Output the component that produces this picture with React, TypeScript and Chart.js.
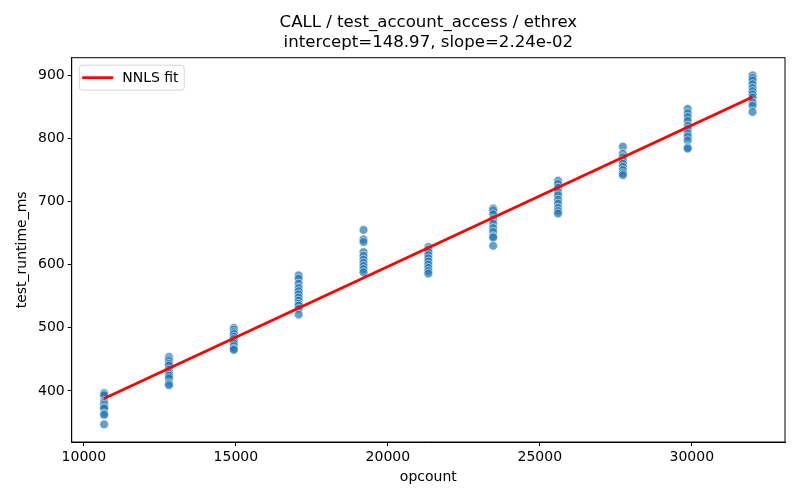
import React, { useEffect, useRef } from 'react';
import { Chart, registerables } from 'chart.js';

Chart.register(...registerables);

const FONT = "'DejaVu Sans', sans-serif";

const titleLines = ['CALL / test_account_access / ethrex', 'intercept=148.97, slope=2.24e-02'];
const intercept = 148.97;
const slope = 2.24e-2;

const opcounts = [10666, 12800, 14933, 17066, 19200, 21333, 23466, 25600, 27733, 29866, 32000];

// runtime samples (ms) read per opcount column
const ms10666 = [397, 395, 393, 384, 381, 378, 374, 372, 364, 362, 347];
const ms12800 = [454, 450, 447, 443, 440, 434, 430, 427, 424, 420, 412, 409];
const ms14933 = [500, 497, 493, 490, 486, 482, 478, 475, 471, 467, 465];
const ms17066 = [583, 578, 570, 563, 558, 553, 548, 543, 538, 535, 530, 521];
const ms19200 = [655, 640, 636, 620, 614, 608, 603, 598, 593, 588];
const ms21333 = [628, 624, 620, 615, 610, 605, 600, 595, 590, 586];
const ms23466 = [689, 686, 680, 672, 665, 658, 652, 645, 643, 630];
const ms25600 = [733, 728, 722, 715, 710, 703, 697, 690, 685, 681];
const ms27733 = [787, 776, 770, 765, 760, 755, 750, 745, 742];
const ms29866 = [847, 840, 834, 828, 820, 815, 808, 803, 797, 786, 784];
const ms32000 = [900, 896, 892, 886, 880, 875, 870, 865, 857, 852, 842];

const runtimes = [ms10666, ms12800, ms14933, ms17066, ms19200, ms21333, ms23466, ms25600, ms27733, ms29866, ms32000];

const xTicks = [10000, 15000, 20000, 25000, 30000];
const yTicks = [400, 500, 600, 700, 800, 900];

// title centred over the axes (matplotlib style), box around the plot, legend top left
const framePlugin = {
  id: 'frame',
  afterDraw(chart: any) {
    const { ctx, chartArea } = chart;
    const { left, top, right, bottom } = chartArea;
    ctx.save();

    ctx.fillStyle = '#000';
    ctx.font = `16.6px ${FONT}`;
    ctx.textAlign = 'center';
    ctx.textBaseline = 'middle';
    titleLines.forEach((line, i) => {
      ctx.fillText(line, (left + right) / 2, 23 + i * 20);
    });

    ctx.strokeStyle = '#000';
    ctx.lineWidth = 1;
    ctx.strokeRect(left, top, right - left, bottom - top);

    const bx = left + 7.5;
    const by = top + 7.5;
    const bw = 105;
    const bh = 25;
    ctx.fillStyle = 'rgba(255,255,255,0.8)';
    ctx.strokeStyle = '#d6d6d6';
    ctx.beginPath();
    ctx.roundRect(bx, by, bw, bh, 3);
    ctx.fill();
    ctx.stroke();

    const ly = by + bh / 2;
    ctx.strokeStyle = 'red';
    ctx.lineWidth = 2.8;
    ctx.beginPath();
    ctx.moveTo(bx + 3, ly);
    ctx.lineTo(bx + 34, ly);
    ctx.stroke();

    ctx.fillStyle = '#000';
    ctx.font = `14px ${FONT}`;
    ctx.textAlign = 'left';
    ctx.fillText(chart.data.datasets[0].label, bx + 43, ly + 1);
    ctx.restore();
  },
};

const App: React.FC = () => {
  const canvasRef = useRef<HTMLCanvasElement | null>(null);

  useEffect(() => {
    document.body.style.margin = '0';
    const ctx = canvasRef.current?.getContext('2d');
    if (!ctx) return;

    const points = opcounts.flatMap((x, i) => runtimes[i].map(y => ({ x, y })));
    const xFirst = opcounts[0];
    const xLast = opcounts[opcounts.length - 1];
    const fit = [
      { x: xFirst, y: intercept + slope * xFirst },
      { x: xLast, y: intercept + slope * xLast },
    ];

    const chart = new Chart(ctx, {
      type: 'scatter',
      data: {
        datasets: [
          {
            type: 'line',
            label: 'NNLS fit',
            data: fit,
            borderColor: 'red',
            borderWidth: 2.8,
            pointRadius: 0,
            showLine: true,
            fill: false,
            order: 0,
          },
          {
            label: 'samples',
            data: points,
            backgroundColor: 'rgba(31,119,180,0.7)',
            borderColor: 'rgba(255,255,255,0.7)',
            borderWidth: 0.8,
            pointRadius: 4.4,
            order: 1,
          },
        ],
      },
      options: {
        responsive: true,
        maintainAspectRatio: false,
        animation: false,
        layout: { padding: { left: 0, right: 15, top: 57.7, bottom: 0 } },
        plugins: {
          legend: { display: false },
          tooltip: { enabled: false },
          title: { display: false },
        },
        scales: {
          x: {
            type: 'linear',
            min: 9599,
            max: 33067,
            afterBuildTicks: (scale: any) => {
              scale.ticks = xTicks.map(value => ({ value }));
            },
            afterFit: (scale: any) => {
              scale.height = 58;
            },
            grid: { display: true, drawOnChartArea: false, drawTicks: true, tickLength: 4, color: '#000' },
            border: { display: true, color: '#000' },
            ticks: {
              color: '#000',
              padding: 3,
              maxRotation: 0,
              font: { family: FONT, size: 14 },
              callback: (v: any) => String(v),
            },
            title: {
              display: true,
              text: 'opcount',
              color: '#000',
              font: { family: FONT, size: 14, lineHeight: 1.2 },
              padding: { top: 0, bottom: 14.6 },
            },
          },
          y: {
            type: 'linear',
            min: 319,
            max: 928,
            afterBuildTicks: (scale: any) => {
              scale.ticks = yTicks.map(value => ({ value }));
            },
            afterFit: (scale: any) => {
              scale.width = 71.7;
            },
            grid: { display: true, drawOnChartArea: false, drawTicks: true, tickLength: 4, color: '#000' },
            border: { display: true, color: '#000' },
            ticks: {
              color: '#000',
              padding: 3,
              font: { family: FONT, size: 14 },
              callback: (v: any) => String(v),
            },
            title: {
              display: true,
              text: 'test_runtime_ms',
              color: '#000',
              font: { family: FONT, size: 14, lineHeight: 1.2 },
              padding: { top: 13.6, bottom: 0 },
            },
          },
        },
      },
      plugins: [framePlugin],
    });

    return () => {
      chart.destroy();
    };
  }, []);

  return (
    <div style={{ width: 800, height: 500, position: 'relative' }}>
      <canvas ref={canvasRef}></canvas>
    </div>
  );
};

export default App;
